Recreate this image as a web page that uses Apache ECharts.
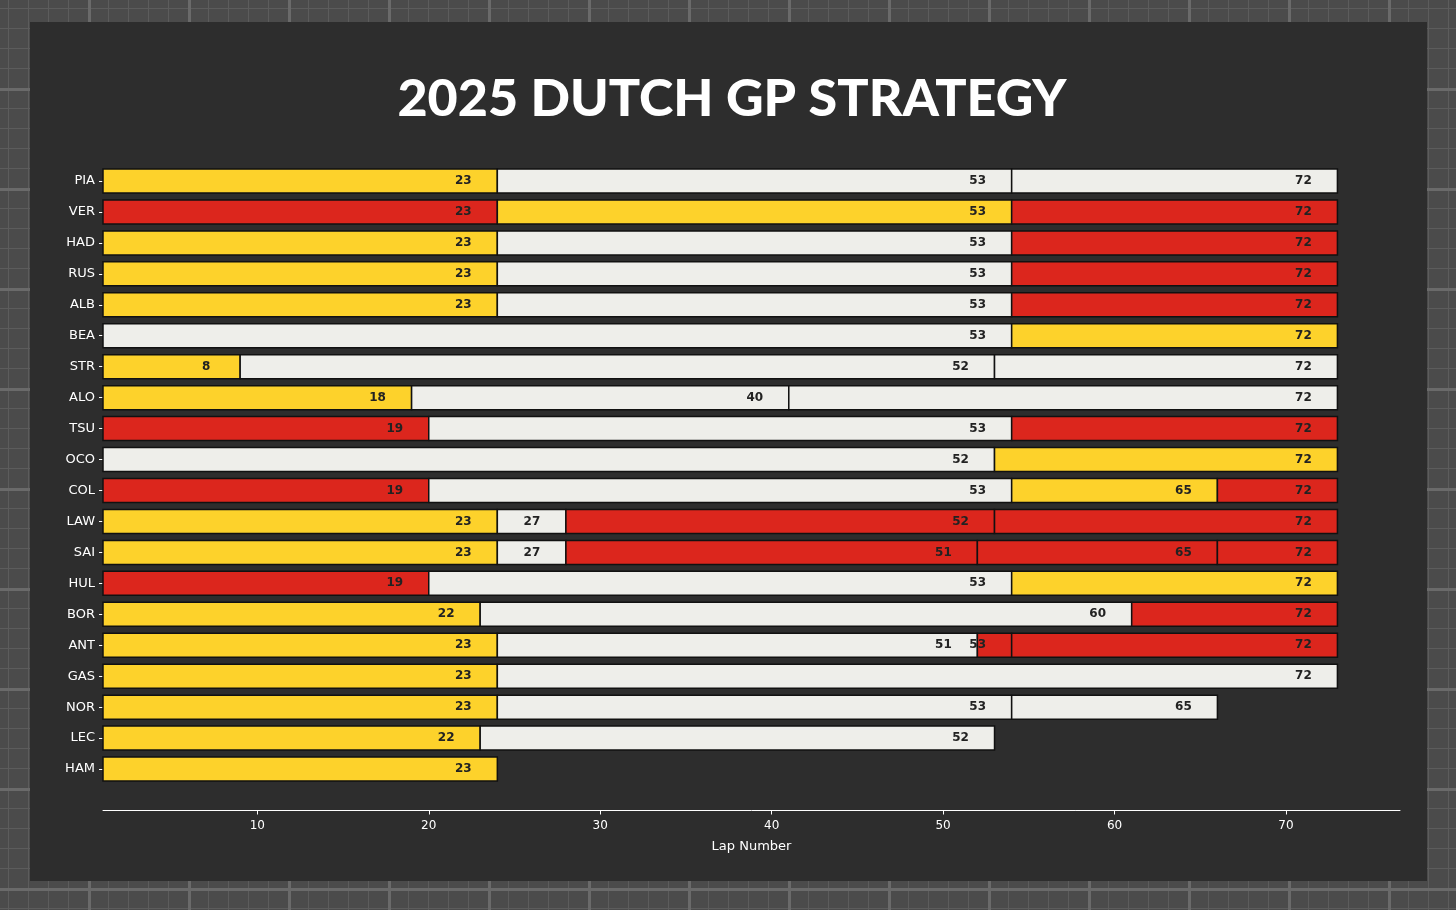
<!DOCTYPE html>
<html><head><meta charset="utf-8">
<script src="https://cdn.jsdelivr.net/npm/echarts@6/dist/echarts.min.js"></script>
<style>
html,body{margin:0;padding:0;width:1456px;height:910px;overflow:hidden;
background-color:#4b4b4b;
background-image:
linear-gradient(#6a6a6a 3px,transparent 3px),
linear-gradient(90deg,#6a6a6a 3px,transparent 3px),
linear-gradient(#5c5c5c 1px,transparent 1px),
linear-gradient(90deg,#5c5c5c 1px,transparent 1px);
background-size:100px 100px,100px 100px,20px 20px,20px 20px;
background-position:-12px -12px,-12px -12px,-12px -12px,-12px -12px;}
#panel{position:absolute;left:30px;top:22px;width:1397px;height:859px;background:#2d2d2d;}
#c{position:absolute;left:0;top:0;width:1456px;height:910px;}
</style></head><body>
<div id="panel"></div><div id="c"></div>
<script>
const drivers=["PIA","VER","HAD","RUS","ALB","BEA","STR","ALO","TSU","OCO","COL","LAW","SAI","HUL","BOR","ANT","GAS","NOR","LEC","HAM"];
// stint end laps and compounds (S=soft red, M=medium yellow, H=hard white)
const stintEnds=[[23,53,72],[23,53,72],[23,53,72],[23,53,72],[23,53,72],[53,72],[8,52,72],[18,40,72],[19,53,72],[52,72],[19,53,65,72],[23,27,52,72],[23,27,51,65,72],[19,53,72],[22,60,72],[23,51,53,72],[23,72],[23,53,65],[22,52],[23]];
const compounds=[["M","H","H"],["S","M","S"],["M","H","S"],["M","H","S"],["M","H","S"],["H","M"],["M","H","H"],["M","H","H"],["S","H","S"],["H","M"],["S","H","M","S"],["M","H","S","S"],["M","H","S","S","S"],["S","H","M"],["M","H","S"],["M","H","S","S"],["M","H"],["M","H","H"],["M","H"],["M"]];
const xTicks=[10,20,30,40,50,60,70];
const colors={S:"#dc261d",M:"#fdd22b",H:"#eeeeea"};
const data=[];
drivers.forEach((d,i)=>{let start=1;stintEnds[i].forEach((e,j)=>{data.push([i,start,e+1,e,compounds[i][j]]);start=e+1;});});
const chart=echarts.init(document.getElementById('c'));
chart.setOption({
 animation:false,
 title:{text:"2025 DUTCH GP STRATEGY",left:727,top:68,textAlign:'center',textStyle:{color:'#fff',fontSize:52,fontWeight:900,fontFamily:'Lato'}},
 grid:{left:103,right:56,top:165.5,bottom:125.5},
 xAxis:{type:'value',min:1,max:76.65,offset:26,name:'Lap Number',nameLocation:'middle',nameGap:30,
  nameTextStyle:{color:'#fff',fontSize:13,fontFamily:'DejaVu Sans'},
  axisLine:{show:true,lineStyle:{color:'#fff',width:1}},splitLine:{show:false},
  axisTick:{show:true,customValues:xTicks,lineStyle:{color:'#fff'},length:4},
  axisLabel:{customValues:xTicks,color:'#fff',fontSize:12,fontFamily:'DejaVu Sans',margin:9}},
 yAxis:{type:'category',data:drivers,inverse:true,axisLine:{show:false},
  axisTick:{show:true,alignWithLabel:true,length:4,lineStyle:{color:'#fff'}},
  axisLabel:{color:'#fff',fontSize:13,fontFamily:'DejaVu Sans',margin:8}},
 series:[{type:'custom',data:data,encode:{x:[1,2],y:0},
  renderItem:(params,api)=>{
   const y=api.value(0),s=api.value(1),e=api.value(2);
   const p0=api.coord([s,y]),p1=api.coord([e,y]);
   const h=24;
   const comp=data[params.dataIndex][4];
   return {type:'group',children:[
    {type:'rect',shape:{x:p0[0],y:p0[1]-h/2,width:p1[0]-p0[0],height:h},style:{fill:colors[comp],stroke:'#111',lineWidth:1.5}},
    {type:'text',x:p1[0]-34,y:p0[1],style:{text:String(api.value(3)),fill:'#222',font:'bold 12px "DejaVu Sans"',align:'center',verticalAlign:'middle'},z2:10}
   ]};
  }}]
});
</script></body></html>
